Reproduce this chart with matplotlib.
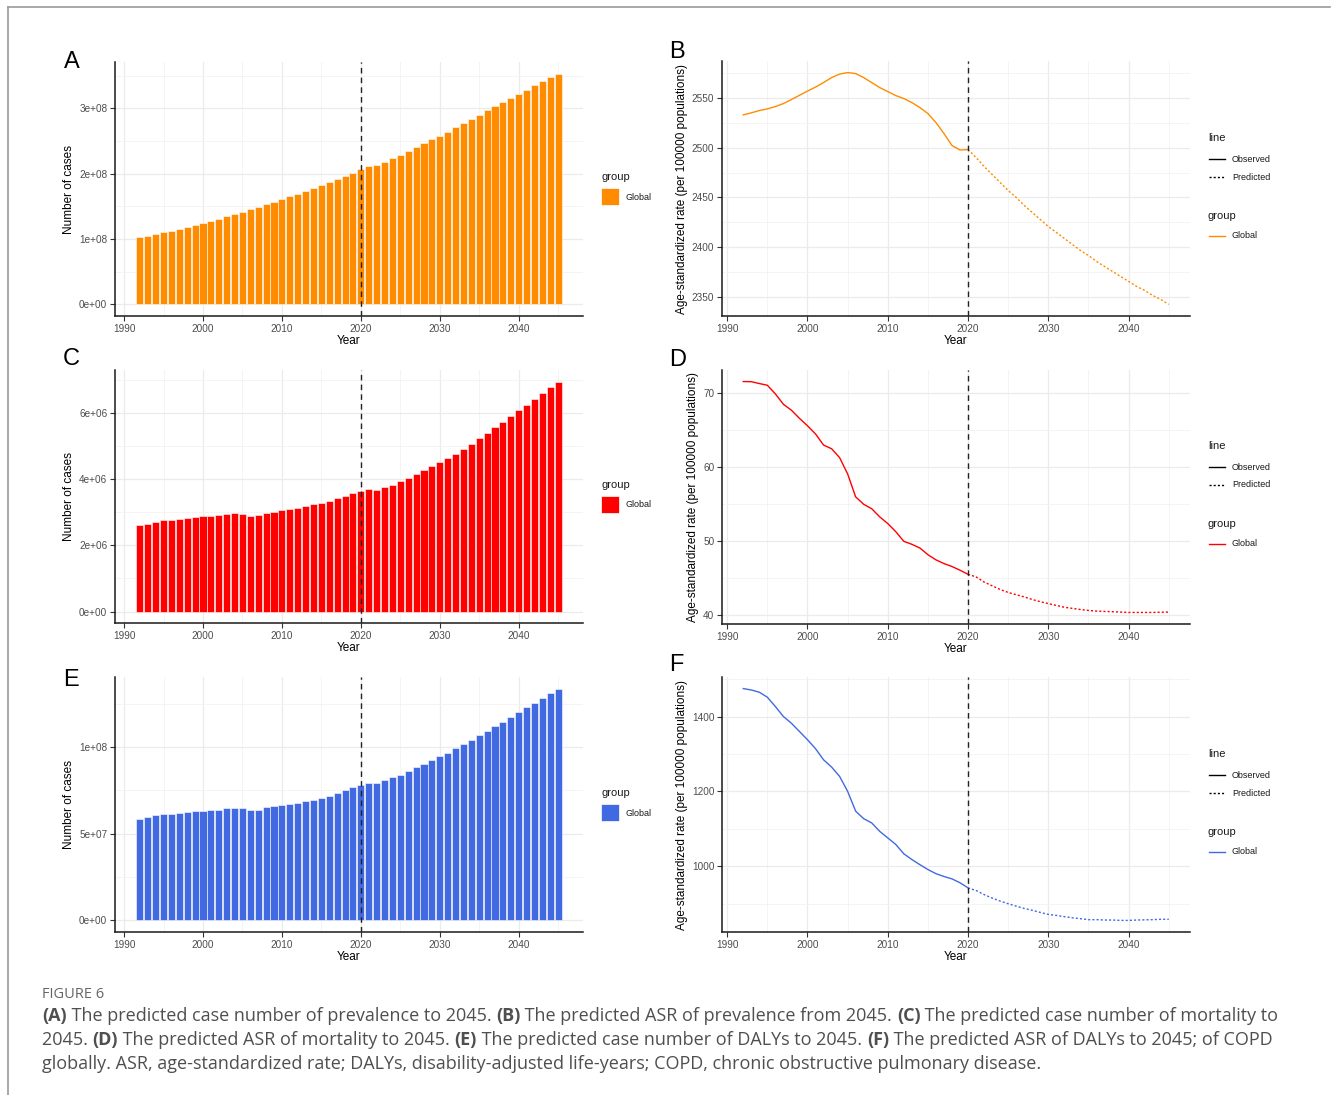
import matplotlib
matplotlib.use("Agg")
import matplotlib.pyplot as plt
from matplotlib.lines import Line2D
from matplotlib.patches import Rectangle

W, H = 1331, 1095

# ---- data ----
years = list(range(1992, 2046))
obs_end = 2020

prev_cases = [1.025, 1.05, 1.08, 1.106, 1.13, 1.157, 1.187, 1.22, 1.247, 1.278,
              1.313, 1.348, 1.384, 1.419, 1.455, 1.495, 1.53, 1.566, 1.606, 1.652,
              1.69, 1.737, 1.778, 1.823, 1.869, 1.914, 1.965, 2.015, 2.066, 2.117,
              2.137, 2.18, 2.24, 2.29, 2.35, 2.41, 2.47, 2.53, 2.58, 2.64,
              2.71, 2.77, 2.84, 2.90, 2.97, 3.03, 3.10, 3.16, 3.22, 3.28,
              3.35, 3.41, 3.47, 3.53]  # x 1e8

mort_cases = [2.61, 2.66, 2.71, 2.76, 2.77, 2.79, 2.83, 2.85, 2.88, 2.90,
              2.92, 2.96, 2.98, 2.96, 2.89, 2.93, 2.99, 3.02, 3.06, 3.09,
              3.12, 3.19, 3.25, 3.29, 3.34, 3.42, 3.50, 3.58, 3.64, 3.71,
              3.68, 3.76, 3.84, 3.94, 4.05, 4.16, 4.27, 4.39, 4.51, 4.64,
              4.78, 4.93, 5.08, 5.24, 5.41, 5.57, 5.74, 5.91, 6.09, 6.26,
              6.43, 6.61, 6.79, 6.96]  # x 1e6

daly_cases = [5.85, 5.98, 6.08, 6.15, 6.17, 6.19, 6.25, 6.29, 6.33, 6.37,
              6.38, 6.46, 6.48, 6.46, 6.35, 6.40, 6.52, 6.58, 6.65, 6.73,
              6.79, 6.87, 6.96, 7.08, 7.19, 7.37, 7.54, 7.69, 7.79, 7.92,
              7.92, 8.08, 8.25, 8.42, 8.62, 8.83, 9.04, 9.23, 9.48, 9.69,
              9.94, 10.19, 10.44, 10.69, 10.94, 11.21, 11.48, 11.75, 12.02, 12.29,
              12.56, 12.85, 13.12, 13.38]  # x 1e7

prev_asr = [2532.7, 2534.7, 2537, 2538.7, 2541, 2544, 2548, 2552.3, 2556.5, 2560.5,
            2565, 2570, 2573.5, 2575, 2574, 2570, 2565, 2560, 2556, 2552,
            2549, 2545, 2540, 2534, 2525, 2514, 2502, 2497.5, 2498, 2490,
            2481, 2473, 2465, 2457, 2450, 2442, 2435, 2428, 2421, 2415,
            2409, 2403, 2397, 2392, 2386, 2381, 2376, 2371, 2366, 2361,
            2357, 2352, 2348, 2343]

mort_asr = [71.57, 71.55, 71.3, 71.07, 69.9, 68.5, 67.7, 66.6, 65.6, 64.5,
            63.0, 62.5, 61.3, 59.1, 56.0, 55.0, 54.4, 53.3, 52.4, 51.3,
            50.0, 49.6, 49.1, 48.2, 47.5, 47.0, 46.6, 46.1, 45.55, 45.2,
            44.5, 44.0, 43.5, 43.1, 42.8, 42.5, 42.15, 41.85, 41.6, 41.35,
            41.1, 40.95, 40.8, 40.67, 40.58, 40.54, 40.5, 40.45, 40.4, 40.4,
            40.4, 40.4, 40.43, 40.45]

daly_asr = [1474.7, 1471, 1465, 1451.6, 1426.7, 1400, 1382, 1360, 1338, 1314,
            1284.4, 1265, 1240, 1200, 1147, 1127, 1115.6, 1093, 1075.6, 1058,
            1033, 1017.8, 1004, 991, 980, 972.4, 966, 955.6, 942, 935,
            924, 914.7, 906.7, 899.6, 893, 887, 882, 876.4, 871, 868.4,
            865, 862, 859.6, 857, 857, 856, 856, 855, 855, 856,
            856.5, 857, 858, 858]

bar_ticks = {
    "A": ([0, 1e8, 2e8, 3e8], ["0e+00", "1e+08", "2e+08", "3e+08"], [0.5e8, 1.5e8, 2.5e8, 3.5e8]),
    "C": ([0, 2e6, 4e6, 6e6], ["0e+00", "2e+06", "4e+06", "6e+06"], [1e6, 3e6, 5e6, 7e6]),
    "E": ([0, 5e7, 1e8], ["0e+00", "5e+07", "1e+08"], [2.5e7, 7.5e7, 1.25e8]),
}
line_ticks = {
    "B": ([2350, 2400, 2450, 2500, 2550], [2375, 2425, 2475, 2525, 2575]),
    "D": ([40, 50, 60, 70], [45, 55, 65]),
    "F": ([1000, 1200, 1400], [900, 1100, 1300, 1500]),
}

orange = "#FF8C00"
red = "#FF0000"
blue = "#4169E1"

plt.rcParams["font.family"] = ["Liberation Sans", "DejaVu Sans"]

fig = plt.figure(figsize=(W / 100, H / 100), dpi=100)


def fx(x):
    return x / W


def fy(y):
    return 1 - y / H


def make_ax(l, r, t, b):
    return fig.add_axes([fx(l), fy(b), (r - l) / W, (b - t) / H])


def style(ax, xmin, xmax, ymin, ymax, yt, ylab, ymin_t):
    ax.set_xlim(xmin, xmax)
    ax.set_ylim(ymin, ymax)
    ax.set_xticks([1990, 2000, 2010, 2020, 2030, 2040])
    ax.set_xticks([1995, 2005, 2015, 2025, 2035, 2045], minor=True)
    ax.set_yticks(yt[0])
    if yt[1] is not None:
        ax.set_yticklabels(yt[1])
    ax.set_yticks(ymin_t, minor=True)
    ax.grid(True, which="major", color="#EBEBEB", lw=0.9)
    ax.grid(True, which="minor", color="#F2F2F2", lw=0.6)
    ax.set_axisbelow(True)
    for s in ["top", "right"]:
        ax.spines[s].set_visible(False)
    for s in ["left", "bottom"]:
        ax.spines[s].set_linewidth(1.1)
        ax.spines[s].set_color("#1a1a1a")
    ax.tick_params(which="major", length=3.5, width=0.8, color="#333333",
                   labelsize=7.2, labelcolor="#4D4D4D", pad=2)
    ax.tick_params(which="minor", length=0)
    ax.set_xlabel("Year", fontsize=8.5, labelpad=1)
    ax.set_ylabel(ylab, fontsize=8.5, labelpad=3)
    ax.axvline(obs_end, color="#222222", lw=1.0, ls=(0, (4, 3)), zorder=5)


def bar_panel(l, r, t, b, vals, scale, color, key, ly):
    ax = make_ax(l, r, t, b)
    v = [x * scale for x in vals]
    ax.bar(years, v, width=0.9, color=color, edgecolor="white", lw=0.4, zorder=2)
    top = max(v)
    ticks = bar_ticks[key]
    style(ax, 1988.85, 2048.15, -0.05 * top, top * 1.05, (ticks[0], ticks[1]),
          "Number of cases", ticks[2])
    # legend
    fig.text(fx(601), fy(ly), "group", fontsize=8, va="center", ha="left", color="#1a1a1a")
    fig.add_artist(Rectangle((fx(601), fy(ly + 28)), 18 / W, 17 / H, transform=fig.transFigure,
                             facecolor=color, edgecolor="white", lw=0.5))
    fig.text(fx(626), fy(ly + 20), "Global", fontsize=6.5, va="center", ha="left", color="#1a1a1a")
    return ax


def line_panel(l, r, t, b, vals, color, key, ly):
    ax = make_ax(l, r, t, b)
    n = years.index(obs_end) + 1
    ax.plot(years[:n], vals[:n], color=color, lw=1.0, zorder=3)
    ax.plot(years[n - 1:], vals[n - 1:], color=color, lw=1.0, ls=(0, (1.5, 1.5)), zorder=3)
    lo, hi = min(vals), max(vals)
    pad = 0.05 * (hi - lo)
    ticks = line_ticks[key]
    style(ax, 1989.35, 2047.65, lo - pad, hi + pad, (ticks[0], None),
          "Age-standardized rate (per 100000 populations)", ticks[1])
    # legends
    fig.text(fx(1208), fy(ly), "line", fontsize=8, va="center", ha="left", color="#1a1a1a")
    fig.add_artist(Line2D([fx(1209), fx(1225)], [fy(ly + 21)] * 2, color="black", lw=1.0))
    fig.text(fx(1232), fy(ly + 21), "Observed", fontsize=6.5, va="center", ha="left", color="#1a1a1a")
    fig.add_artist(Line2D([fx(1209), fx(1225)], [fy(ly + 39)] * 2, color="black", lw=1.0,
                          ls=(0, (1.5, 1.5))))
    fig.text(fx(1232), fy(ly + 39), "Predicted", fontsize=6.5, va="center", ha="left", color="#1a1a1a")
    fig.text(fx(1208), fy(ly + 78), "group", fontsize=8, va="center", ha="left", color="#1a1a1a")
    fig.add_artist(Line2D([fx(1209), fx(1225)], [fy(ly + 98)] * 2, color=color, lw=1.0))
    fig.text(fx(1232), fy(ly + 98), "Global", fontsize=6.5, va="center", ha="left", color="#1a1a1a")
    return ax


bar_panel(115, 583, 62, 316, prev_cases, 1e8, orange, "A", 177)
line_panel(722, 1190, 61, 316, prev_asr, orange, "B", 138)
bar_panel(115, 583, 370, 623, mort_cases, 1e6, red, "C", 485)
line_panel(722, 1190, 370, 624, mort_asr, red, "D", 446)
bar_panel(115, 583, 677, 932, daly_cases, 1e7, blue, "E", 793)
line_panel(722, 1190, 677, 932, daly_asr, blue, "F", 754)

# panel letters
for lab, x, y in [("A", 64, 62), ("B", 669, 52), ("C", 63, 359), ("D", 669, 360),
                  ("E", 63, 680), ("F", 669, 665)]:
    fig.text(fx(x), fy(y), lab, fontsize=17, va="center", ha="left", color="black")

# frame
fig.add_artist(Line2D([fx(8), fx(8)], [fy(7), fy(1095)], color="#9a9a9a", lw=1.2))
fig.add_artist(Line2D([fx(8), fx(1330)], [fy(7), fy(7)], color="#9a9a9a", lw=1.2))

# caption
cap_font = ["Open Sans", "DejaVu Sans"]
fig.text(fx(42), fy(994), "FIGURE 6", fontsize=10.5, va="center", ha="left",
         color="#666666", family=cap_font)

cap_lines = [
    [("(A)", True), (" The predicted case number of prevalence to 2045. ", False),
     ("(B)", True), (" The predicted ASR of prevalence from 2045. ", False),
     ("(C)", True), (" The predicted case number of mortality to", False)],
    [("2045. ", False), ("(D)", True), (" The predicted ASR of mortality to 2045. ", False),
     ("(E)", True), (" The predicted case number of DALYs to 2045. ", False),
     ("(F)", True), (" The predicted ASR of DALYs to 2045; of COPD", False)],
    [("globally. ASR, age-standardized rate; DALYs, disability-adjusted life-years; "
      "COPD, chronic obstructive pulmonary disease.", False)],
]
renderer = fig.canvas.get_renderer()
for i, parts in enumerate(cap_lines):
    x = 42
    y = 1021 + i * 24
    for txt, bold in parts:
        t = fig.text(fx(x), fy(y), txt, fontsize=13, va="baseline", ha="left",
                     color="#4f4f4f", family=cap_font,
                     weight="bold" if bold else "normal")
        x += t.get_window_extent(renderer).width

fig.savefig("out.png", dpi=100, facecolor="white")
